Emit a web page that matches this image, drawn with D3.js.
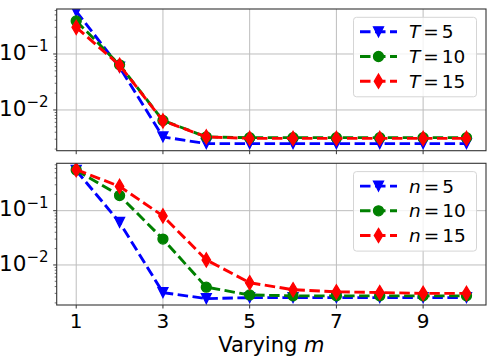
<!DOCTYPE html>
<html>
<head>
<meta charset="utf-8">
<script src="https://d3js.org/d3.v7.min.js"></script>
<style>
  body { margin: 0; background: #fff; }
  text { font-family: "DejaVu Sans", sans-serif; fill: #000; }
</style>
</head>
<body>
<div id="my_dataviz"></div>
<script>
// values
let mValues = [1, 2, 3, 4, 5, 6, 7, 8, 9, 10];
let xTicks = [1, 3, 5, 7, 9];

let topT5 = [0.58, 0.058, 0.0033, 0.0025, 0.0025, 0.0025, 0.0025, 0.0025, 0.0025, 0.0025];
let topT10 = [0.39, 0.064, 0.0065, 0.0033, 0.0032, 0.0032, 0.0032, 0.0032, 0.0032, 0.0032];
let topT15 = [0.30, 0.063, 0.0064, 0.0033, 0.0031, 0.0031, 0.0031, 0.0031, 0.0031, 0.0031];

let botN5 = [0.55, 0.061, 0.0031, 0.0024, 0.0025, 0.0025, 0.0025, 0.0025, 0.0025, 0.0025];
let botN10 = [0.56, 0.19, 0.030, 0.0039, 0.0028, 0.0027, 0.0027, 0.0027, 0.0027, 0.0027];
let botN15 = [0.57, 0.28, 0.080, 0.0124, 0.0047, 0.0035, 0.0032, 0.0031, 0.0030, 0.0030];

let seriesNums = [5, 10, 15];
let colors = ["#0000ff", "#008000", "#ff0000"];
let markers = ["v", "o", "d"];

let width = 496, height = 359;
let left = 56.7, right = 486;

let svg = d3.select("#my_dataviz")
  .append("svg")
  .attr("width", width)
  .attr("height", height);

let x = d3.scaleLinear().domain([0.55, 10.45]).range([left, right]);

// marker path for each symbol
function markerPath(type) {
  if (type == "v") return "M-5,-5L5,-5L0,5Z";
  if (type == "d") return "M0,-7.07L4.24,0L0,7.07L-4.24,0Z";
  return d3.symbol().type(d3.symbolCircle).size(Math.PI * 25)();
}

function drawPanel(id, top, bottom, yDomain, series, labelLetter, showXLabels) {
  let g = svg.append("g");
  let y = d3.scaleLog().domain(yDomain).range([bottom, top]);

  // gridlines
  g.append("g")
    .selectAll("line")
    .data(xTicks)
    .enter()
    .append("line")
    .attr("x1", d => x(d)).attr("x2", d => x(d))
    .attr("y1", top).attr("y2", bottom)
    .attr("stroke", "#bdbdbd").attr("stroke-width", 1);

  let decades = [0.01, 0.1];
  g.append("g")
    .selectAll("line")
    .data(decades)
    .enter()
    .append("line")
    .attr("x1", left).attr("x2", right)
    .attr("y1", d => y(d)).attr("y2", d => y(d))
    .attr("stroke", "#bdbdbd").attr("stroke-width", 1);

  // clip for the lines
  svg.append("clipPath").attr("id", id)
    .append("rect")
    .attr("x", left).attr("y", top)
    .attr("width", right - left).attr("height", bottom - top);

  let plot = g.append("g").attr("clip-path", "url(#" + id + ")");
  let line = d3.line().x((d, i) => x(mValues[i])).y(d => y(d));

  series.forEach(function (vals, k) {
    plot.append("path")
      .attr("d", line(vals))
      .attr("fill", "none")
      .attr("stroke", colors[k])
      .attr("stroke-width", 2.9)
      .attr("stroke-dasharray", "10.5,4.5");

    plot.selectAll(".mk" + k)
      .data(vals)
      .enter()
      .append("path")
      .attr("d", markerPath(markers[k]))
      .attr("transform", (d, i) => "translate(" + x(mValues[i]) + "," + y(d) + ")")
      .attr("fill", colors[k])
      .attr("stroke", colors[k])
      .attr("stroke-width", 1.3);
  });

  // y axis: major + minor ticks
  let minor = [];
  for (let e = -3; e <= 0; e++) {
    for (let j = 2; j <= 9; j++) {
      let v = j * Math.pow(10, e);
      if (v >= yDomain[0] && v <= yDomain[1]) minor.push(v);
    }
  }
  g.selectAll(".minor")
    .data(minor)
    .enter()
    .append("line")
    .attr("x1", left - 2).attr("x2", left)
    .attr("y1", d => y(d)).attr("y2", d => y(d))
    .attr("stroke", "#333").attr("stroke-width", 0.7);

  g.selectAll(".major")
    .data(decades)
    .enter()
    .append("line")
    .attr("x1", left - 3.5).attr("x2", left)
    .attr("y1", d => y(d)).attr("y2", d => y(d))
    .attr("stroke", "#333").attr("stroke-width", 1);

  let yl = g.selectAll(".ylab")
    .data(decades)
    .enter()
    .append("text")
    .attr("x", 48.5)
    .attr("y", d => y(d) + 5.8)
    .attr("text-anchor", "end")
    .style("font-size", "21.5px");
  yl.append("tspan").text("10");
  yl.append("tspan")
    .attr("dy", -8.3)
    .style("font-size", "15px")
    .text(d => "\u2212" + Math.round(-Math.log10(d)));

  // x ticks
  g.selectAll(".xt")
    .data(xTicks)
    .enter()
    .append("line")
    .attr("x1", d => x(d)).attr("x2", d => x(d))
    .attr("y1", bottom).attr("y2", bottom + 3.5)
    .attr("stroke", "#333").attr("stroke-width", 1);

  if (showXLabels) {
    g.selectAll(".xl")
      .data(xTicks)
      .enter()
      .append("text")
      .attr("x", d => x(d))
      .attr("y", bottom + 22.7)
      .attr("text-anchor", "middle")
      .style("font-size", "20px")
      .text(d => d);
  }

  // frame
  g.append("rect")
    .attr("x", left).attr("y", top)
    .attr("width", right - left).attr("height", bottom - top)
    .attr("fill", "none")
    .attr("stroke", "#333")
    .attr("stroke-width", 1.1);

  // legend
  let lx = 353.5, ly = top + 8.3;
  let leg = g.append("g");
  leg.append("rect")
    .attr("x", lx).attr("y", ly)
    .attr("width", 123).attr("height", 79.5)
    .attr("rx", 3)
    .attr("fill", "#fff").attr("fill-opacity", 0.8)
    .attr("stroke", "#d5d5d5").attr("stroke-width", 1);

  seriesNums.forEach(function (n, k) {
    let ry = ly + 14.5 + k * 24.7;
    leg.append("line")
      .attr("x1", lx + 6.5).attr("x2", lx + 43.5)
      .attr("y1", ry).attr("y2", ry)
      .attr("stroke", colors[k])
      .attr("stroke-width", 2.9)
      .attr("stroke-dasharray", "10.5,4.5");
    leg.append("path")
      .attr("d", markerPath(markers[k]))
      .attr("transform", "translate(" + (lx + 25) + "," + ry + ")")
      .attr("fill", colors[k])
      .attr("stroke", colors[k])
      .attr("stroke-width", 1.3);
    let t = leg.append("text")
      .attr("x", lx + 55.5)
      .attr("y", ry + 6.5)
      .style("font-size", "18.5px");
    t.append("tspan").style("font-style", "italic").text(labelLetter);
    t.append("tspan").attr("dx", 3).text("=");
    t.append("tspan").attr("dx", 3).text(n);
  });
}

drawPanel("clipTop", 9, 150.7, [0.00187, 0.637], [topT5, topT10, topT15], "T", false);
drawPanel("clipBot", 163.3, 305, [0.00183, 0.746], [botN5, botN10, botN15], "n", true);

// x-axis label
let xlab = svg.append("text")
  .attr("x", (left + right) / 2)
  .attr("y", 351.7)
  .attr("text-anchor", "middle")
  .style("font-size", "21px");
xlab.append("tspan").text("Varying ");
xlab.append("tspan").style("font-style", "italic").text("m");
</script>
</body>
</html>
